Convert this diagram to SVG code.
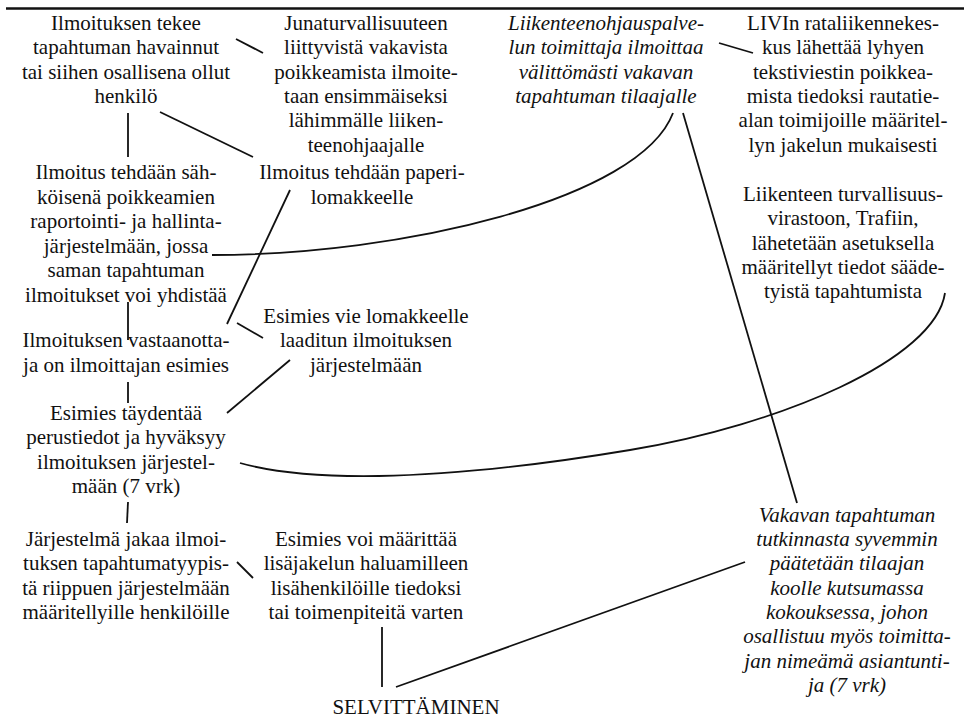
<svg xmlns="http://www.w3.org/2000/svg" width="964" height="718" viewBox="0 0 964 718">
<style>
text{font-family:"Liberation Serif","Times New Roman",serif;font-size:21px;fill:#111;text-anchor:middle}
.it{font-style:italic}
.c{fill:none;stroke:#111;stroke-width:1.8;stroke-linecap:butt}
</style>
<rect width="964" height="718" fill="#fff"/>
<line x1="6" y1="8.5" x2="964" y2="8.5" stroke="#111" stroke-width="2.5"/>
<g id="connectors" class="c">
<line x1="236" y1="39" x2="263" y2="53"/>
<line x1="128" y1="113" x2="128" y2="157"/>
<line x1="160" y1="112" x2="253" y2="157"/>
<line x1="290" y1="190" x2="227" y2="324"/>
<path d="M212,255 C400,255 640,200 673,113"/>
<line x1="719" y1="43" x2="753" y2="53"/>
<line x1="683" y1="113" x2="797" y2="503"/>
<path d="M240,463 C300,480 420,485 630,450 C780,425 935,360 945,293"/>
<line x1="128" y1="302" x2="128" y2="340"/>
<line x1="128" y1="382" x2="128" y2="403"/>
<line x1="237" y1="323" x2="263" y2="338"/>
<line x1="290" y1="360" x2="227" y2="413"/>
<line x1="128" y1="502" x2="127" y2="523"/>
<line x1="237" y1="562" x2="253" y2="578"/>
<line x1="382" y1="627" x2="382" y2="687"/>
<line x1="396" y1="687" x2="745" y2="562"/>
</g>
<g id="n1"><text x="126" y="30">Ilmoituksen tekee</text><text x="126" y="54.3">tapahtuman havainnut</text><text x="126" y="78.6">tai siihen osallisena ollut</text><text x="126" y="102.9">henkilö</text></g>
<g id="n2"><text x="366" y="30">Junaturvallisuuteen</text><text x="366" y="54.3">liittyvistä vakavista</text><text x="366" y="78.6">poikkeamista ilmoite-</text><text x="366" y="102.9">taan ensimmäiseksi</text><text x="366" y="127.2">lähimmälle liiken-</text><text x="366" y="151.5">teenohjaajalle</text></g>
<g id="n3"><text class="it" x="606" y="30">Liikenteenohjauspalve-</text><text class="it" x="606" y="54.3">lun toimittaja ilmoittaa</text><text class="it" x="606" y="78.6">välittömästi vakavan</text><text class="it" x="606" y="102.9">tapahtuman tilaajalle</text></g>
<g id="n4"><text x="843" y="30">LIVIn rataliikennekes-</text><text x="843" y="54.3">kus lähettää lyhyen</text><text x="843" y="78.6">tekstiviestin poikkea-</text><text x="843" y="102.9">mista tiedoksi rautatie-</text><text x="843" y="127.2">alan toimijoille määritel-</text><text x="843" y="151.5">lyn jakelun mukaisesti</text></g>
<g id="n5"><text x="843" y="201">Liikenteen turvallisuus-</text><text x="843" y="225.3">virastoon, Trafiin,</text><text x="843" y="249.6">lähetetään asetuksella</text><text x="843" y="273.9">määritellyt tiedot sääde-</text><text x="843" y="298.2">tyistä tapahtumista</text></g>
<g id="n6"><text x="126" y="179">Ilmoitus tehdään säh-</text><text x="126" y="203.5">köisenä poikkeamien</text><text x="126" y="228">raportointi- ja hallinta-</text><text x="126" y="252.5">järjestelmään, jossa</text><text x="126" y="277">saman tapahtuman</text><text x="126" y="301.5">ilmoitukset voi yhdistää</text></g>
<g id="n_paperi"><text x="362" y="179">Ilmoitus tehdään paperi-</text><text x="362" y="203.5">lomakkeelle</text></g>
<g id="n10"><text x="366" y="323">Esimies vie lomakkeelle</text><text x="366" y="347.3">laaditun ilmoituksen</text><text x="366" y="371.6">järjestelmään</text></g>
<g id="n7"><text x="126" y="347.3">Ilmoituksen vastaanotta-</text><text x="126" y="371.6">ja on ilmoittajan esimies</text></g>
<g id="n8"><text x="126" y="420">Esimies täydentää</text><text x="126" y="444.3">perustiedot ja hyväksyy</text><text x="126" y="468.6">ilmoituksen järjestel-</text><text x="126" y="492.9">mään (7 vrk)</text></g>
<g id="n9"><text x="126" y="546">Järjestelmä jakaa ilmoi-</text><text x="126" y="570.3">tuksen tapahtumatyypis-</text><text x="126" y="594.6">tä riippuen järjestelmään</text><text x="126" y="618.9">määritellyille henkilöille</text></g>
<g id="n11"><text x="366" y="546">Esimies voi määrittää</text><text x="366" y="570.3">lisäjakelun haluamilleen</text><text x="366" y="594.6">lisähenkilöille tiedoksi</text><text x="366" y="618.9">tai toimenpiteitä varten</text></g>
<g id="n13"><text class="it" x="847" y="521.7">Vakavan tapahtuman</text><text class="it" x="847" y="546">tutkinnasta syvemmin</text><text class="it" x="847" y="570.3">päätetään tilaajan</text><text class="it" x="847" y="594.6">koolle kutsumassa</text><text class="it" x="847" y="618.9">kokouksessa, johon</text><text class="it" x="847" y="643.2">osallistuu myös toimitta-</text><text class="it" x="847" y="667.5">jan nimeämä asiantunti-</text><text class="it" x="847" y="691.8">ja (7 vrk)</text></g>
<g id="n12"><text x="416" y="714">SELVITTÄMINEN</text></g>
</svg>
